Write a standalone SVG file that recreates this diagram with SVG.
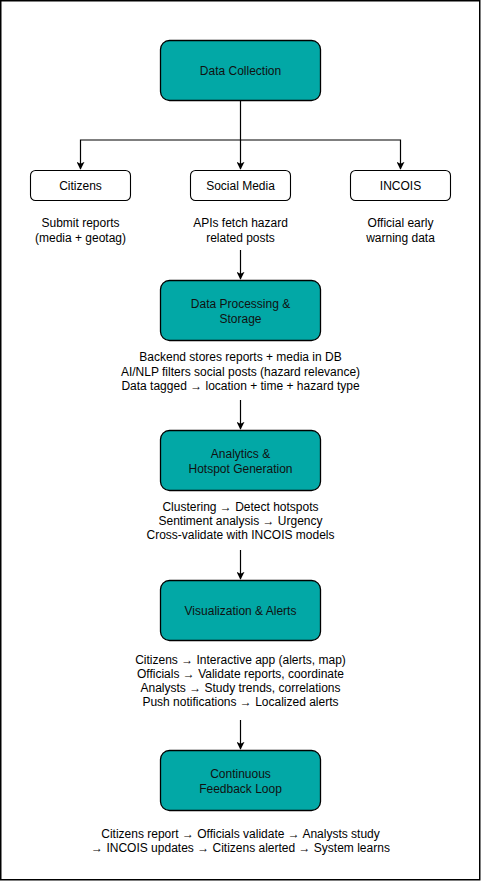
<svg xmlns="http://www.w3.org/2000/svg" width="481" height="882" viewBox="0 0 481 882">
<style>
.main{fill:#02a8a6;stroke:#000;stroke-width:1.3}
.small{fill:#fff;stroke:#000;stroke-width:1.1}
text{font-family:"Liberation Sans",Arial,sans-serif;font-size:12px;fill:#000;text-anchor:middle}
.box text{fill:#111}
.conn path{fill:none;stroke:#000;stroke-width:1.2}
</style>
<defs>
<marker id="ah" viewBox="0 0 10 10" refX="9" refY="5" markerWidth="8" markerHeight="8" markerUnits="userSpaceOnUse" orient="auto">
<path d="M0,0 L10,5 L0,10 L2.5,5 Z" fill="#000"/>
</marker>
</defs>
<rect x="0.75" y="0.75" width="479" height="879" fill="#fff" stroke="#000" stroke-width="1.5"/>
<g class="conn">
<path d="M240.5,100 V140 H80.5 V169" marker-end="url(#ah)"/>
<path d="M240.5,140 V169" marker-end="url(#ah)"/>
<path d="M240.5,140 H400.5 V169" marker-end="url(#ah)"/>
<path d="M240.5,250 V279" marker-end="url(#ah)"/>
<path d="M240.5,400 V429" marker-end="url(#ah)"/>
<path d="M240.5,550 V579" marker-end="url(#ah)"/>
<path d="M240.5,720 V749" marker-end="url(#ah)"/>
</g>
<g id="data-collection" class="box">
<rect class="main" x="160.5" y="40.5" width="160" height="60" rx="9"/>
<text x="240.5" y="75">Data Collection</text>
</g>
<g id="citizens">
<rect class="small" x="30.5" y="170.5" width="100" height="30" rx="5"/>
<text x="80.5" y="189.5">Citizens</text>
<text x="80.5" y="227">Submit reports</text>
<text x="80.5" y="242">(media + geotag)</text>
</g>
<g id="social-media">
<rect class="small" x="190.5" y="170.5" width="100" height="30" rx="5"/>
<text x="240.5" y="189.5">Social Media</text>
<text x="240.5" y="227">APIs fetch hazard</text>
<text x="240.5" y="242">related posts</text>
</g>
<g id="incois">
<rect class="small" x="350.5" y="170.5" width="100" height="30" rx="5"/>
<text x="400.5" y="189.5">INCOIS</text>
<text x="400.5" y="227">Official early</text>
<text x="400.5" y="242">warning data</text>
</g>
<g id="data-processing" class="box">
<rect class="main" x="160.5" y="280.5" width="160" height="60" rx="9"/>
<text x="240.5" y="307.5">Data Processing &amp;</text>
<text x="240.5" y="322.5">Storage</text>
</g>
<g id="dp-desc">
<text x="240.5" y="361">Backend stores reports + media in DB</text>
<text x="240.5" y="375.5">AI/NLP filters social posts (hazard relevance)</text>
<text x="240.5" y="390">Data tagged → location + time + hazard type</text>
</g>
<g id="analytics" class="box">
<rect class="main" x="160.5" y="430.5" width="160" height="60" rx="9"/>
<text x="240.5" y="457.5">Analytics &amp;</text>
<text x="240.5" y="472.5">Hotspot Generation</text>
</g>
<g id="an-desc">
<text x="240.5" y="511">Clustering → Detect hotspots</text>
<text x="240.5" y="525">Sentiment analysis → Urgency</text>
<text x="240.5" y="539">Cross-validate with INCOIS models</text>
</g>
<g id="visualization" class="box">
<rect class="main" x="160.5" y="580.5" width="160" height="60" rx="9"/>
<text x="240.5" y="615">Visualization &amp; Alerts</text>
</g>
<g id="vis-desc">
<text x="240.5" y="664">Citizens → Interactive app (alerts, map)</text>
<text x="240.5" y="678">Officials → Validate reports, coordinate</text>
<text x="240.5" y="692">Analysts  → Study trends, correlations</text>
<text x="240.5" y="706">Push notifications → Localized alerts</text>
</g>
<g id="feedback" class="box">
<rect class="main" x="160.5" y="750.5" width="160" height="60" rx="9"/>
<text x="240.5" y="777.5">Continuous</text>
<text x="240.5" y="792.5">Feedback Loop</text>
</g>
<g id="fb-desc">
<text x="240.5" y="838">Citizens report → Officials validate → Analysts study</text>
<text x="240.5" y="852">→ INCOIS updates → Citizens alerted → System learns</text>
</g>
</svg>
